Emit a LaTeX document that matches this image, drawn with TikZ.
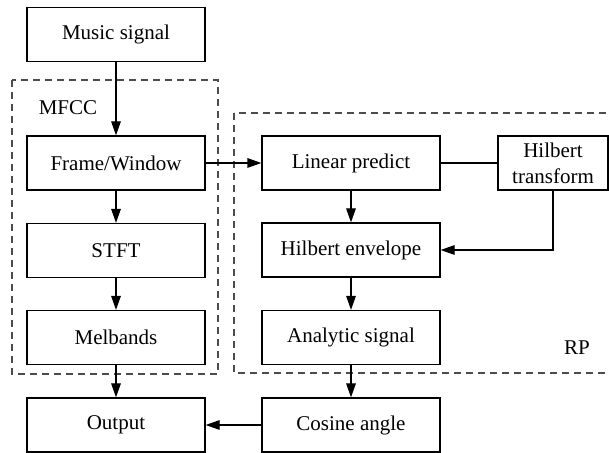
\documentclass[tikz,border=0pt]{standalone}
\usepackage{fontspec}
\setmainfont{Liberation Serif}
\usetikzlibrary{arrows.meta}

\tikzset{
  block/.style={draw, line width=0.65pt, minimum width=89pt, minimum height=27pt,
    inner sep=0pt, font=\fontsize{10.5}{13}\selectfont},
  region/.style={draw=black!70, line width=0.6pt, dash pattern=on 3.5pt off 2.5pt},
  flow/.style={draw, line width=0.65pt, -{Triangle[length=7pt,width=4.8pt]}}
}

\begin{document}
\begin{tikzpicture}[x=0.5pt, y=-0.5pt]
\useasboundingbox (0,0) rectangle (609,453);

\draw[region] (12,80) rectangle (218,374);
\draw[region] (234,113) rectangle (616,373);
\node[font=\fontsize{10.5}{13}\selectfont] (mfcc) at (68,108) {MFCC};
\node[font=\fontsize{10.5}{13}\selectfont] (rp) at (577,348) {RP};

\node[block] (music) at (116,34.5) {Music signal};
\node[block] (frame) at (116,163) {Frame/Window};
\node[block] (stft) at (116,250.5) {STFT};
\node[block] (mel) at (116,337.5) {Melbands};
\node[block] (output) at (116,425) {Output};

\node[block] (linear) at (351,163) {Linear predict};
\node[block, minimum width=55pt, align=center] (hilbert) at (553,163) {Hilbert\\transform};
\node[block] (envelope) at (351,250) {Hilbert envelope};
\node[block] (analytic) at (351,337.5) {Analytic signal};
\node[block] (cosine) at (351,425) {Cosine angle};

\path[flow] (music) -- (frame);
\path[flow] (frame) -- (stft);
\path[flow] (stft) -- (mel);
\path[flow] (mel) -- (output);
\path[flow] (frame) -- (linear);
\path[draw, line width=0.65pt] (linear) -- (hilbert);
\path[flow] (linear) -- (envelope);
\path[flow] (hilbert) |- (envelope);
\path[flow] (envelope) -- (analytic);
\path[flow] (analytic) -- (cosine);
\path[flow] (cosine) -- (output);
\end{tikzpicture}
\end{document}
